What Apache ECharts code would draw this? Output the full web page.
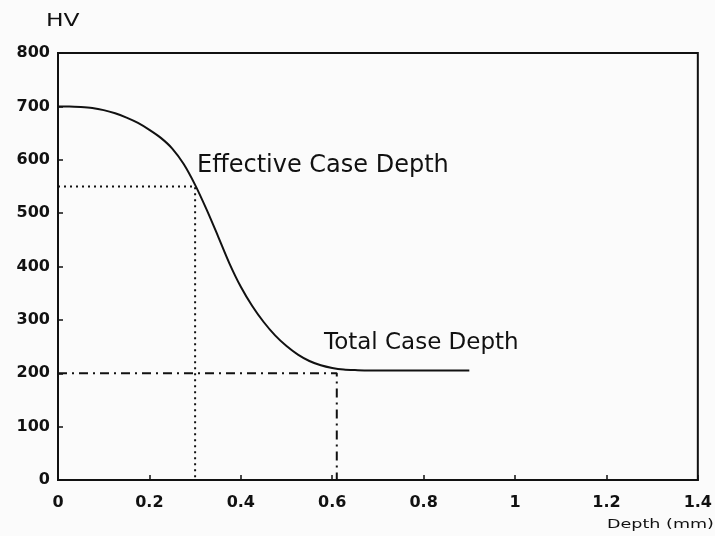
<!DOCTYPE html>
<html>
<head>
<meta charset="utf-8">
<script src="https://cdn.jsdelivr.net/npm/echarts@6/dist/echarts.min.js"></script>
<style>html,body{margin:0;padding:0;background:#fbfbfb;}#c{width:715px;height:536px;}</style>
</head>
<body>
<div id="c"></div>
<script>
// Hardness profile (depth in mm, hardness in HV)
const depth = [0, 0.025, 0.05, 0.075, 0.1, 0.125, 0.15, 0.175, 0.2, 0.225, 0.25, 0.275, 0.3, 0.325, 0.35, 0.375, 0.4, 0.425, 0.45, 0.475, 0.5, 0.525, 0.55, 0.575, 0.6, 0.625, 0.65, 0.7, 0.8, 0.9];
const hv    = [700, 700, 699, 697, 693, 687, 679, 669, 656, 641, 621, 592, 553, 507, 457, 406, 362, 326, 296, 271, 251, 235, 223, 215, 210, 207, 206, 205, 205, 205];
// Effective case depth guide (550 HV at 0.3 mm)
const effectiveGuide = [[0, 550], [0.3, 550], [0.3, 0]];
// Total case depth guide (200 HV at 0.61 mm)
const totalGuide = [[0, 200], [0.61, 200], [0.61, 0]];
const xTicks = { min: 0, max: 1.4, interval: 0.2 };
const yTicks = { min: 0, max: 800, interval: 100 };
const labels = { y: 'HV', x: 'Depth (mm)', eff: 'Effective Case Depth', total: 'Total Case Depth' };

const chart = echarts.init(document.getElementById('c'), null, { renderer: 'canvas' });
const font = 'DejaVu Sans';
const curve = depth.map((d, i) => [d, hv[i]]);
chart.setOption({
  backgroundColor: '#fbfbfb',
  animation: false,
  grid: { left: 58, right: 13, top: 53, bottom: 56, show: true, borderColor: '#111', borderWidth: 2, backgroundColor: 'transparent' },
  xAxis: {
    type: 'value', min: xTicks.min, max: xTicks.max, interval: xTicks.interval,
    axisLine: { lineStyle: { color: '#111', width: 2 } },
    axisTick: { inside: true, length: 5, lineStyle: { color: '#111', width: 1.5 } },
    splitLine: { show: false },
    axisLabel: { color: '#111', fontFamily: font, fontWeight: 'bold', fontSize: 16, margin: 15, showMinLabel: true, showMaxLabel: true }
  },
  yAxis: {
    type: 'value', min: yTicks.min, max: yTicks.max, interval: yTicks.interval,
    axisLine: { show: true, lineStyle: { color: '#111', width: 2 } },
    axisTick: { show: true, inside: true, length: 5, lineStyle: { color: '#111', width: 1.5 } },
    splitLine: { show: false },
    axisLabel: { color: '#111', fontFamily: font, fontWeight: 'bold', fontSize: 16, margin: 8, showMinLabel: true, showMaxLabel: true }
  },
  series: [
    { type: 'line', data: curve, smooth: 0.3, showSymbol: false, lineStyle: { color: '#111', width: 2 }, z: 3 },
    { type: 'line', data: effectiveGuide, showSymbol: false, lineStyle: { color: '#111', width: 2, type: [2, 4] }, z: 2 },
    { type: 'line', data: totalGuide, showSymbol: false, lineStyle: { color: '#111', width: 2, type: [9, 5, 2, 5] }, z: 2 }
  ],
  graphic: [
    { type: 'text', x: 46, y: 21, scaleX: 1.3, style: { text: labels.y, fontFamily: font, fontSize: 18, fill: '#111', verticalAlign: 'middle', align: 'left' } },
    { type: 'text', x: 197, y: 166, style: { text: labels.eff, fontFamily: font, fontSize: 24, fill: '#111', verticalAlign: 'middle', align: 'left' } },
    { type: 'text', x: 324, y: 343, style: { text: labels.total, fontFamily: font, fontSize: 23, fill: '#111', verticalAlign: 'middle', align: 'left' } },
    { type: 'text', x: 607, y: 525, scaleX: 1.35, style: { text: labels.x, fontFamily: font, fontSize: 13, fill: '#111', verticalAlign: 'middle', align: 'left' } }
  ]
});
</script>
</body>
</html>
